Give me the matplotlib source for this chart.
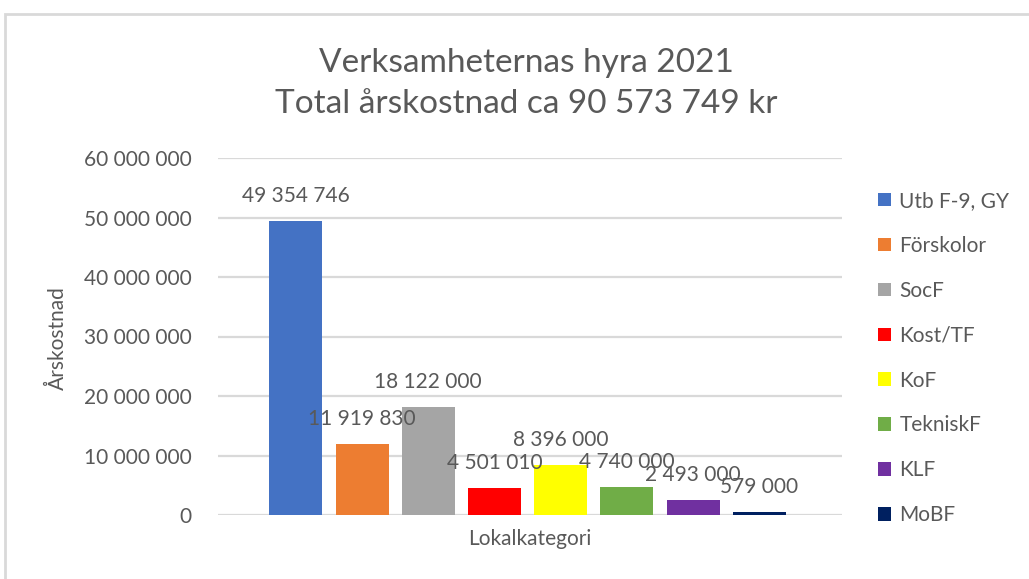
import matplotlib
matplotlib.use("Agg")
import matplotlib.pyplot as plt
from matplotlib.patches import Rectangle

# data
series = ["Utb F-9, GY", "Förskolor", "SocF", "Kost/TF", "KoF", "TekniskF", "KLF", "MoBF"]
values = [49354746, 11919830, 18122000, 4501010, 8396000, 4740000, 2493000, 579000]
colors = ["#4472C4", "#ED7D31", "#A5A5A5", "#FF0000", "#FFFF00", "#70AD47", "#7030A0", "#002060"]
yticks = [0, 10000000, 20000000, 30000000, 40000000, 50000000, 60000000]

title = "Verksamheternas hyra 2021\nTotal årskostnad ca 90 573 749 kr"
category = "Lokalkategori"
ylabel = "Årskostnad"

plt.rcParams["font.family"] = ["Lato", "DejaVu Sans"]
txt = "#595959"
grid = "#D9D9D9"


def fmt(v):
    return f"{v:,}".replace(",", " ")


W, H = 1029, 579
fig = plt.figure(figsize=(W / 100, H / 100), dpi=100)
ax = fig.add_axes([218 / W, 1 - 515 / H, 624 / W, 357 / H])

# one category, eight series side by side (Excel clustered column)
step = 66.2 / 624
width = 53 / 624
n = len(values)
for i, (name, v, c) in enumerate(zip(series, values, colors)):
    x = (i - (n - 1) / 2) * step - 2.5 / 624
    ax.bar(x, v, width=width, color=c, label=name, zorder=3)
    ax.annotate(fmt(v), (x, v), xytext=(0, 18), textcoords="offset points",
                ha="center", va="center", fontsize=15, color=txt, zorder=4)

ax.set_xlim(-0.5, 0.5)
ax.set_ylim(0, 60000000)
ax.set_yticks(yticks)
ax.set_yticklabels([fmt(t) for t in yticks], fontsize=15, color=txt)
ax.set_xticks([])
ax.tick_params(axis="y", length=0, pad=19)
ax.grid(axis="y", color=grid, linewidth=1.6, zorder=0)
for s in ax.spines.values():
    s.set_visible(False)

ax.set_xlabel(category, fontsize=15, color=txt, labelpad=10)
fig.text(58 / W, 1 - 338 / H, ylabel, rotation=90, ha="center", va="center",
         fontsize=15, color=txt)
fig.text(526 / W, 1 - 83.5 / H, title, ha="center", va="center", fontsize=24,
         color=txt, linespacing=1.45)

fig.legend(loc="upper left", bbox_to_anchor=(878 / W, 1 - 191 / H), frameon=False,
           fontsize=15, labelcolor=txt, handlelength=0.63, handleheight=0.63,
           handletextpad=0.4, labelspacing=1.195, borderpad=0, borderaxespad=0)

# chart frame (screenshot crop shows only top and left edges)
fig.patches.append(Rectangle((5 / W, -0.1), 1.2, 1 - 14 / H + 0.1, transform=fig.transFigure,
                             fill=False, edgecolor=grid, linewidth=2))

fig.savefig("out.png", dpi=100)
